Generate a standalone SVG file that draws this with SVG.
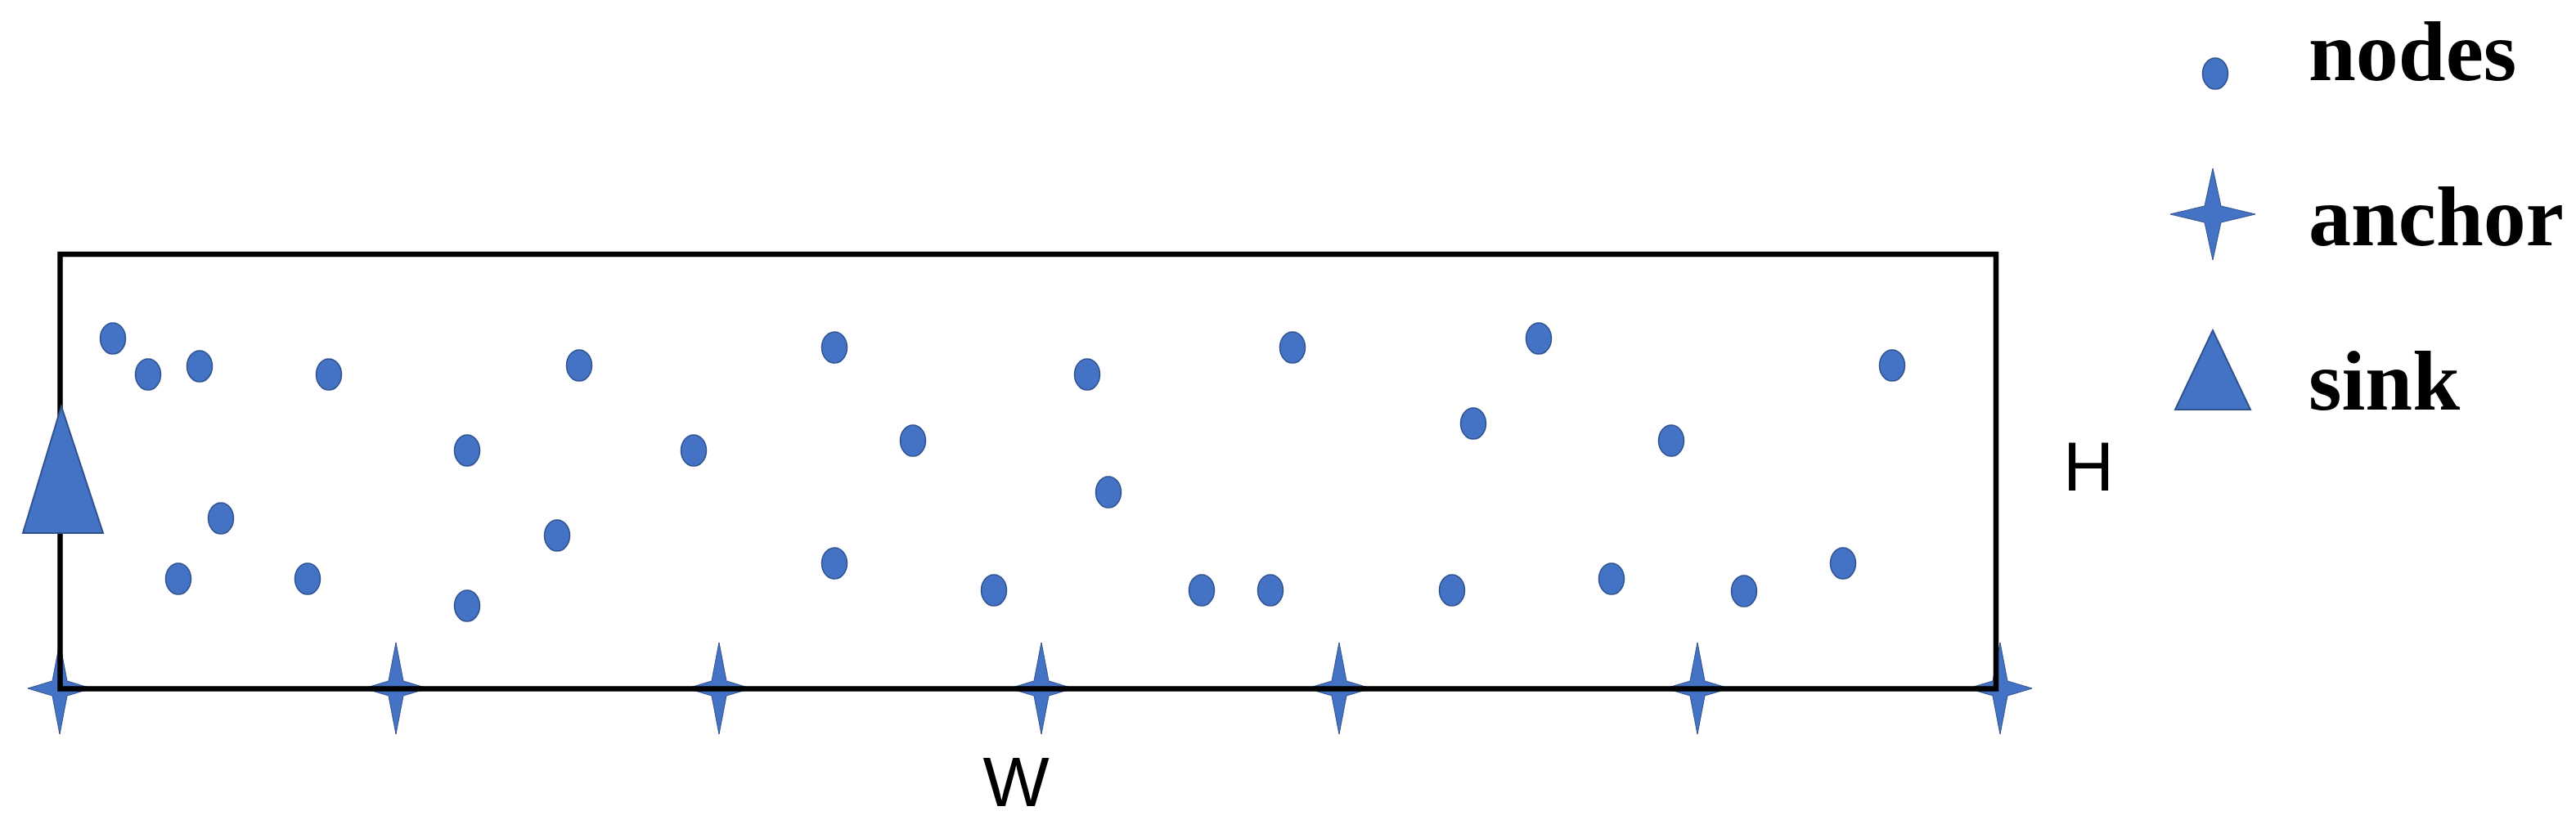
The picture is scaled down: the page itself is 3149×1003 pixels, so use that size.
<svg xmlns="http://www.w3.org/2000/svg" width="3149" height="1003" viewBox="0 0 3149 1003">
  <style>
    .node { fill: #4472C4; stroke: #2F528F; stroke-width: 1.5; }
    .anchor { fill: #4472C4; stroke: #2F528F; stroke-width: 1; }
    .sink { fill: #4472C4; stroke: #2F528F; stroke-width: 2; }
    .field { fill: none; stroke: #000000; stroke-width: 6.5; }
    .dim { font-family: "Liberation Sans", Arial, sans-serif; font-size: 86px; fill: #000000; }
    .legend { font-family: "Liberation Serif", "Times New Roman", serif; font-weight: bold; font-size: 104px; fill: #000000; }
  </style>
  <defs>
    <polygon id="star" points="0,-56 9,-9 39,0 9,9 0,56 -9,9 -39,0 -9,-9"/>
    <polygon id="starL" points="0,-56 10,-10 52,0 10,10 0,56 -10,10 -52,0 -10,-10"/>
    <ellipse id="dot" cx="0" cy="0" rx="15.5" ry="19"/>
  </defs>
  <rect width="3149" height="1003" fill="#ffffff"/>

  <g id="anchors">
    <use href="#star" class="anchor" x="73" y="842"/>
    <use href="#star" class="anchor" x="484" y="842"/>
    <use href="#star" class="anchor" x="879" y="842"/>
    <use href="#star" class="anchor" x="1273" y="842"/>
    <use href="#star" class="anchor" x="1637" y="842"/>
    <use href="#star" class="anchor" x="2075" y="842"/>
    <use href="#star" class="anchor" x="2445" y="842"/>
  </g>

  <g id="field">
    <rect class="field" x="73.5" y="311" width="2366.5" height="531.5"/>
  </g>

  <g id="sink">
    <polygon class="sink" points="75,497 28,652 126,652"/>
  </g>

  <g id="nodes">
    <use href="#dot" class="node" x="138" y="414"/>
    <use href="#dot" class="node" x="181" y="458"/>
    <use href="#dot" class="node" x="244" y="448"/>
    <use href="#dot" class="node" x="402" y="458"/>
    <use href="#dot" class="node" x="571" y="551"/>
    <use href="#dot" class="node" x="270" y="634"/>
    <use href="#dot" class="node" x="681" y="655"/>
    <use href="#dot" class="node" x="218" y="708"/>
    <use href="#dot" class="node" x="376" y="708"/>
    <use href="#dot" class="node" x="571" y="741"/>
    <use href="#dot" class="node" x="708" y="447"/>
    <use href="#dot" class="node" x="1020" y="425"/>
    <use href="#dot" class="node" x="1329" y="458"/>
    <use href="#dot" class="node" x="848" y="551"/>
    <use href="#dot" class="node" x="1116" y="539"/>
    <use href="#dot" class="node" x="1355" y="602"/>
    <use href="#dot" class="node" x="1020" y="689"/>
    <use href="#dot" class="node" x="1215" y="722"/>
    <use href="#dot" class="node" x="1580" y="425"/>
    <use href="#dot" class="node" x="1881" y="414"/>
    <use href="#dot" class="node" x="1801" y="518"/>
    <use href="#dot" class="node" x="2043" y="539"/>
    <use href="#dot" class="node" x="1469" y="722"/>
    <use href="#dot" class="node" x="1553" y="722"/>
    <use href="#dot" class="node" x="1775" y="722"/>
    <use href="#dot" class="node" x="1970" y="708"/>
    <use href="#dot" class="node" x="2313" y="447"/>
    <use href="#dot" class="node" x="2253" y="689"/>
    <use href="#dot" class="node" x="2132" y="723"/>
  </g>

  <g id="labels">
    <text class="dim" x="1242" y="986" text-anchor="middle">W</text>
    <text class="dim" x="2553" y="600" text-anchor="middle">H</text>
  </g>

  <g id="legend">
    <g id="legend-nodes">
      <use href="#dot" class="node" x="2708" y="90"/>
      <text class="legend" x="2822" y="98">nodes</text>
    </g>
    <g id="legend-anchor">
      <use href="#starL" class="anchor" x="2705" y="262"/>
      <text class="legend" x="2822" y="300">anchor</text>
    </g>
    <g id="legend-sink">
      <polygon class="sink" points="2705,404 2659,501 2751,501"/>
      <text class="legend" x="2822" y="501">sink</text>
    </g>
  </g>

  <g id="connectors"/>
</svg>
